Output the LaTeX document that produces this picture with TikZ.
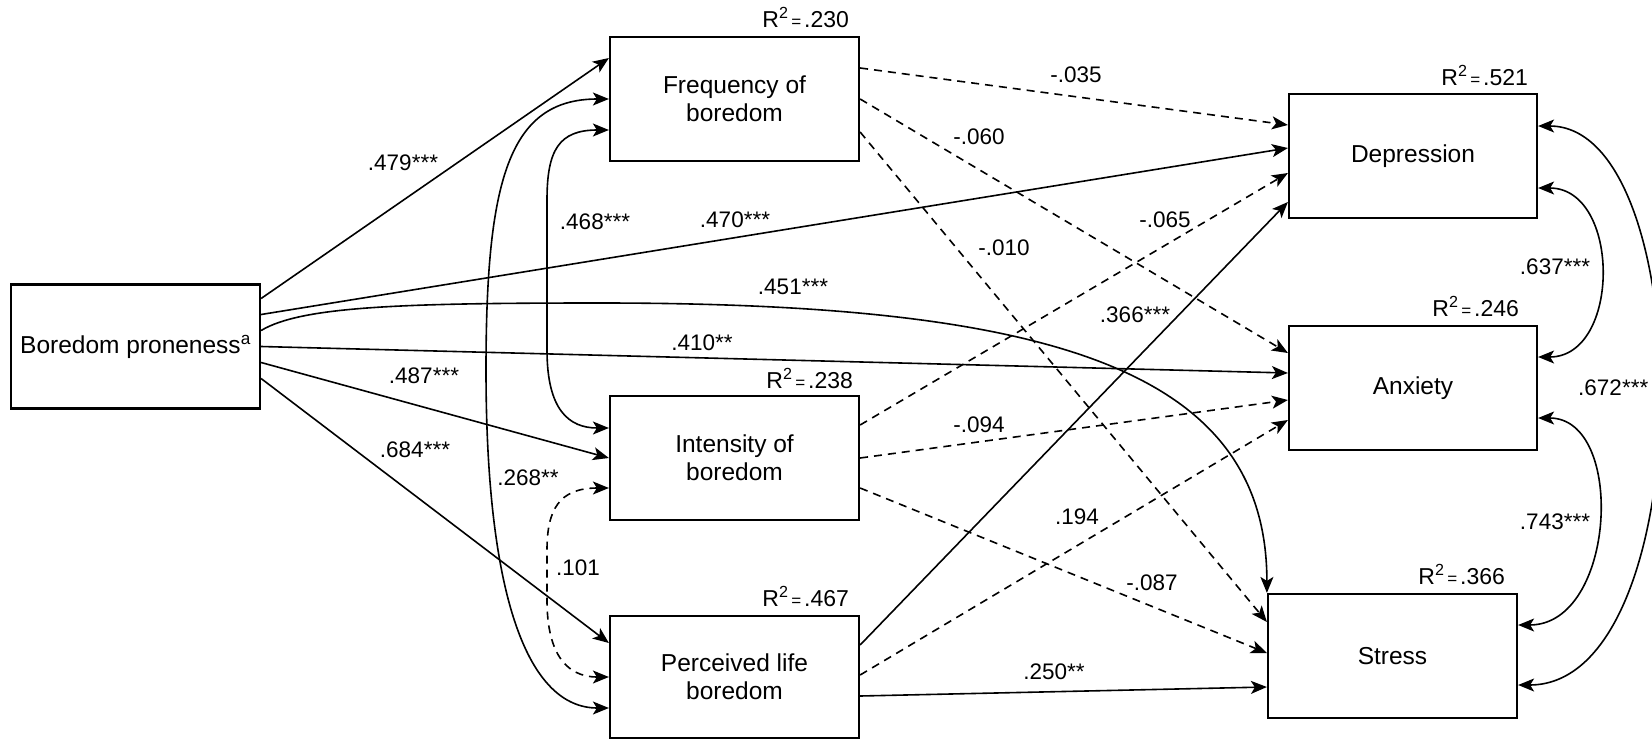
\documentclass[tikz,border=0pt]{standalone}
\usepackage{fontspec}
\setmainfont{Liberation Sans}
\usetikzlibrary{arrows.meta,calc}
\newcommand\sig[1]{#1}
\newcommand\rsq[1]{R\textsuperscript{2}{\fontsize{17}{17}\selectfont\,=\,}#1}
\begin{document}
\begin{tikzpicture}[x=1pt,y=-1pt,
  box/.style={draw,line width=2.2pt,minimum width=249pt,minimum height=124pt,inner sep=0pt,align=center,font=\fontsize{24.5}{28}\selectfont},
  lab/.style={font=\fontsize{22.5}{26}\selectfont,inner sep=0pt},
  rlab/.style={font=\fontsize{23}{26}\selectfont,inner sep=0pt,anchor=base east},
  tip/.tip={Stealth[length=16pt,width=13pt,inset=4pt]},
  con/.style={line width=1.6pt,-tip},
  cov/.style={line width=1.6pt,tip-tip},
  dsh/.style={dash pattern=on 8pt off 6pt}
]
\useasboundingbox (0,0) rectangle (1652,739);

% boxes
\node[box] (bp) at (135.5,346.5) {\raisebox{-3pt}{Boredom proneness\textsuperscript{a}}};
\node[box] (freq) at (734.5,99) {Frequency of\\boredom};
\node[box] (int) at (734.5,458) {Intensity of\\boredom};
\node[box,minimum height=122pt] (per) at (734.5,677) {Perceived life\\boredom};
\node[box,minimum width=248pt] (dep) at (1413,156) {Depression};
\node[box,minimum width=248pt] (anx) at (1413,388) {Anxiety};
\node[box] (str) at (1392.5,656) {Stress};

% R2 labels
\node[rlab] (r1) at ($(freq.north east)+(-11,-8)$) {\rsq{.230}};
\node[rlab] (r2) at ($(int.north east)+(-7,-6)$) {\rsq{.238}};
\node[rlab] (r3) at ($(per.north east)+(-11,-8)$) {\rsq{.467}};
\node[rlab] (r4) at ($(dep.north east)+(-10,-7)$) {\rsq{.521}};
\node[rlab] (r5) at ($(anx.north east)+(-19,-8)$) {\rsq{.246}};
\node[rlab] (r6) at ($(str.north east)+(-13,-8)$) {\rsq{.366}};

% predictor paths
\draw[con] ($(bp.east)+(0,-48)$) -- ($(freq.west)+(0,-41)$);
\draw[con] ($(bp.east)+(0,-32)$) -- ($(dep.west)+(0,-8)$);
\draw[con] ($(bp.east)+(0,-16)$) .. controls +(40,-24) and (400,303) .. (600,303)
  .. controls (1050,303) and +(0,-224) .. (str.north west);
\draw[con] (bp.east) -- ($(anx.west)+(0,-15)$);
\draw[con] ($(bp.east)+(0,16)$) -- (int.west);
\draw[con] ($(bp.east)+(0,32)$) -- ($(per.west)+(0,-34)$);

% mediator covariances
\draw[cov] (freq.west) .. controls +(-100,0) and (486,180) .. (486,370)
  .. controls (486,600) and +(-80,0) .. ($(per.west)+(0,31)$);
\draw[cov] ($(freq.west)+(0,31)$) .. controls +(-50,0) and (547,150) .. (547,200)
  -- (547,350) .. controls (547,410) and +(-40,0) .. ($(int.west)+(0,-30)$);
\draw[cov,dsh] ($(int.west)+(0,30)$) .. controls +(-50,0) and (547,510) .. (547,550)
  -- (547,600) .. controls (547,650) and +(-45,0) .. (per.west);

% mediator -> outcome
\draw[con,dsh] ($(freq.east)+(0,-31)$) -- ($(dep.west)+(0,-31)$);
\draw[con,dsh] (freq.east) -- ($(anx.west)+(0,-35)$);
\draw[con,dsh] ($(freq.east)+(0,33)$) -- ($(str.west)+(0,-34)$);
\draw[con,dsh] ($(int.east)+(0,-33)$) -- ($(dep.west)+(0,17)$);
\draw[con,dsh] (int.east) -- ($(anx.west)+(0,12)$);
\draw[con,dsh] ($(int.east)+(0,30)$) -- ($(str.west)+(0,-3)$);
\draw[con] ($(per.east)+(0,-32)$) -- ($(dep.west)+(0,46)$);
\draw[con,dsh] ($(per.east)+(0,-2)$) -- ($(anx.west)+(0,32)$);
\draw[con] ($(per.east)+(0,19)$) -- ($(str.west)+(0,31)$);

% outcome covariances
\draw[cov] ($(dep.east)+(0,32)$) .. controls +(83,0) and +(83,0) .. ($(anx.east)+(0,-31)$);
\draw[cov] ($(anx.east)+(0,30)$) .. controls +(88,0) and +(98,0) .. ($(str.east)+(0,-31)$);
\draw[cov] ($(dep.east)+(0,-30)$) .. controls +(163,0) and +(183,0) .. ($(str.east)+(0,29)$);

% coefficient labels
\node[lab] (l1) at (403,163) {.479\sig{***}};
\node[lab] (l2) at (735,220) {.470\sig{***}};
\node[lab] (l3) at (793,287) {.451\sig{***}};
\node[lab] (l4) at (702,343) {.410\sig{**}};
\node[lab] (l5) at (424,376) {.487\sig{***}};
\node[lab] (l6) at (415,450) {.684\sig{***}};
\node[lab] (l7) at (595,222) {.468\sig{***}};
\node[lab] (l8) at (528,478) {.268\sig{**}};
\node[lab] (l9) at (578,568) {.101};
\node[lab] (l10) at (1076,75) {-.035};
\node[lab] (l11) at (979,137) {-.060};
\node[lab] (l12) at (1004,248) {-.010};
\node[lab] (l13) at (1165,220) {-.065};
\node[lab] (l14) at (979,425) {-.094};
\node[lab] (l15) at (1152,583) {-.087};
\node[lab] (l16) at (1135,315) {.366\sig{***}};
\node[lab] (l17) at (1077,517) {.194};
\node[lab] (l18) at (1054,672) {.250\sig{**}};
\node[lab] (l19) at (1555,267) {.637\sig{***}};
\node[lab] (l20) at (1555,522) {.743\sig{***}};
\node[lab,anchor=west] (l21) at (1578,388) {.672\sig{***}};
\end{tikzpicture}
\end{document}
